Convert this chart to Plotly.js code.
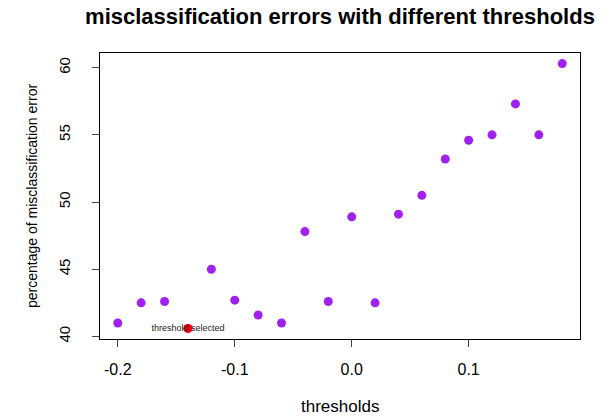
<!DOCTYPE html>
<html>
<head>
<meta charset="utf-8">
<script src="https://cdn.plot.ly/plotly-3.0.1.min.js"></script>
<style>
  html, body { margin: 0; padding: 0; background: #fff; }
  #chart { width: 611px; height: 419px; }
</style>
</head>
<body>
<div id="chart"></div>
<script>
// Thresholds tried and the misclassification error (%) for each
const thresholds = [-0.20, -0.18, -0.16, -0.14, -0.12, -0.10, -0.08, -0.06, -0.04, -0.02,
                     0.00,  0.02,  0.04,  0.06,  0.08,  0.10,  0.12,  0.14,  0.16,  0.18];
const errors = [41.0, 42.5, 42.6, 40.6, 45.0, 42.7, 41.6, 41.0, 47.8, 42.6,
                48.9, 42.5, 49.1, 50.5, 53.2, 54.6, 55.0, 57.3, 55.0, 60.3];

// The chosen threshold (lowest error)
const selectedThreshold = [-0.14];
const selectedError = [40.6];
const selectedLabel = ["threshold selected"];

const xTicks = [-0.2, -0.1, 0.0, 0.1];
const xTickText = ["-0.2", "-0.1", "0.0", "0.1"];
const yTicks = [40, 45, 50, 55, 60];

const FONT = "Liberation Sans, Arial, Helvetica, sans-serif";

// Pad the ranges by 4% on each side, as base graphics does
function padded(vals) {
  const lo = Math.min(...vals), hi = Math.max(...vals);
  const d = (hi - lo) * 0.04;
  return [lo - d, hi + d];
}

const traces = [
  {
    type: "scatter", mode: "markers",
    x: thresholds, y: errors,
    marker: { color: "#A020F0", size: 9, line: { width: 0 } },
    hoverinfo: "x+y"
  },
  {
    type: "scatter", mode: "markers",
    x: selectedThreshold, y: selectedError,
    marker: { color: "#FF0000", size: 9, line: { width: 0 } },
    hoverinfo: "x+y"
  },
  {
    type: "scatter", mode: "text",
    x: selectedThreshold, y: selectedError,
    text: selectedLabel, textposition: "middle center",
    textfont: { family: FONT, size: 9, color: "#222" },
    hoverinfo: "skip"
  }
];

const axisCommon = {
  showgrid: false, zeroline: false,
  showline: true, linecolor: "#000", linewidth: 1, mirror: true,
  ticks: "outside", ticklen: 7, tickwidth: 1, tickcolor: "#444",
  tickmode: "array"
};

const layout = {
  width: 611, height: 419,
  margin: { l: 100, r: 31, t: 53, b: 80 },
  paper_bgcolor: "#fff", plot_bgcolor: "#fff",
  showlegend: false,
  title: {
    text: "<b>misclassification errors with different thresholds</b>",
    font: { family: FONT, size: 22, color: "#000" },
    x: 0.5, xref: "paper", xanchor: "center",
    y: 1 - 16 / 419, yref: "container", yanchor: "middle"
  },
  xaxis: Object.assign({}, axisCommon, {
    range: padded(thresholds.concat(selectedThreshold)),
    tickvals: xTicks, ticktext: xTickText,
    tickfont: { family: FONT, size: 16, color: "#000" },
    ticklabelstandoff: 9
  }),
  yaxis: Object.assign({}, axisCommon, {
    range: padded(errors.concat(selectedError)),
    tickvals: yTicks,
    tickangle: -90,
    tickfont: { family: FONT, size: 15, color: "#000" },
    ticklabelstandoff: 16
  }),
  annotations: [
    {
      text: "thresholds", xref: "paper", yref: "paper",
      x: 0.5, y: 0, xanchor: "center", yanchor: "middle",
      yshift: -67, showarrow: false,
      font: { family: FONT, size: 17, color: "#000" }
    },
    {
      text: "percentage of misclassification error", xref: "paper", yref: "paper",
      x: 0, y: 0.5, xanchor: "center", yanchor: "middle",
      xshift: -68, textangle: -90, showarrow: false,
      font: { family: FONT, size: 14, color: "#000" }
    }
  ]
};

Plotly.newPlot("chart", traces, layout, { displayModeBar: false, staticPlot: true });
</script>
</body>
</html>
